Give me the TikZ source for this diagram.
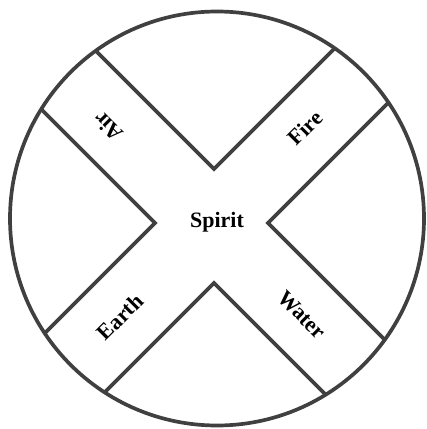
\documentclass[tikz,border=0pt]{standalone}
\usepackage{fontspec}
\setmainfont{Liberation Serif}
\definecolor{ringgray}{HTML}{404040}

\begin{document}
\begin{tikzpicture}[x=0.02cm,y=-0.02cm,band/.style={draw=ringgray,line width=2.1pt,line join=miter},element/.style={font=\bfseries\fontsize{12.5}{15}\selectfont,inner sep=1pt}]
\useasboundingbox (0,0) rectangle (426,429);
\coordinate (ring) at (217,218.5);
\coordinate (top) at (214,169); \coordinate (bottom) at (214,283);
\coordinate (left) at (155,223); \coordinate (right) at (268,223);
% the cross, cut at the ring
\begin{scope}
\clip (ring) circle (207);
\draw[band] (top) ++(-300,-300) -- (top) -- ++(300,-300);
\draw[band] (bottom) ++(-300,300) -- (bottom) -- ++(300,300);
\draw[band] (left) ++(-300,-300) -- (left) -- ++(-300,300);
\draw[band] (right) ++(300,-300) -- (right) -- ++(300,300);
\end{scope}
\draw[band] (ring) circle (207);
\node[element] (spirit) at (217,222){Spirit};
\node[element, rotate=135] (air) at (108,127){Air};
\node[element, rotate=45] (fire) at (305,128){Fire};
\node[element, rotate=45] (earth) at (120,317){Earth};
\node[element, rotate=-45] (water) at (302,315){Water};
\end{tikzpicture}
\end{document}
